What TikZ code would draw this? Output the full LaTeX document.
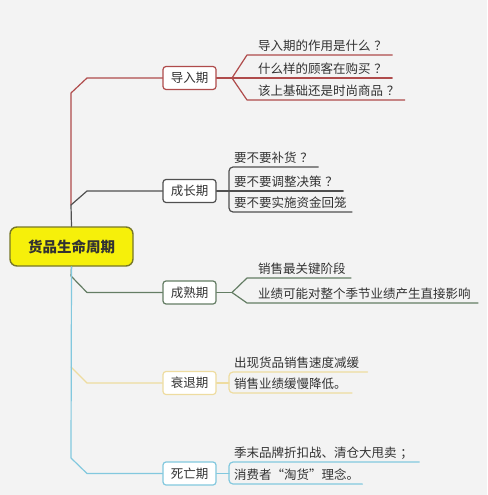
\documentclass[tikz,border=0pt]{standalone}
\usepackage{fontspec}
\newfontfamily\cjk{Noto Sans CJK SC}
\newcommand\qmk{\hspace{0.3em}？\hspace{-0.3em}}
\newcommand\smk{\hspace{0.3em}；\hspace{-0.3em}}
\definecolor{bg}{RGB}{243,243,243}
\definecolor{txt}{RGB}{50,50,50}
\definecolor{ca}{RGB}{175,75,75}
\definecolor{cb}{RGB}{80,80,80}
\definecolor{cc}{RGB}{100,125,100}
\definecolor{cd}{RGB}{238,220,160}
\definecolor{ce}{RGB}{130,200,222}
\definecolor{rootfill}{RGB}{246,240,10}
\definecolor{rootline}{RGB}{120,120,40}
\begin{document}
\begin{tikzpicture}[x=1pt,y=-1pt,
  phase/.style={draw, rounded corners=3pt, line width=1.2pt, fill=white, minimum width=53pt, minimum height=23pt, inner sep=0pt, font=\cjk\fontsize{12.5}{13}\selectfont, text=txt},
  leaf/.style={anchor=south west, inner xsep=0pt, inner ysep=1.5pt, font=\cjk\fontsize{12.5}{13}\selectfont, text=txt, text height=10pt, text depth=2.5pt},
  br/.style={line width=1.2pt, line cap=round, line join=round},
  brk/.style={br, rounded corners=4pt},
]
\fill[bg] (0,0) rectangle (487,495);
\useasboundingbox (0,0) rectangle (487,495);

% root
\node[draw=rootline, fill=rootfill, line width=1.4pt, rounded corners=7pt, minimum width=123pt, minimum height=39pt, inner sep=0pt, font=\cjk\bfseries\fontsize{14.5}{15}\selectfont, text=txt] (root) at (71.5,246.5) {货品生命周期};

% phases
\node[phase, draw=ca] (p1) at (189.5,78) {导入期};
\node[phase, draw=cb] (p2) at (189.5,191) {成长期};
\node[phase, draw=cc] (p3) at (189.5,292.5) {成熟期};
\node[phase, draw=cd] (p4) at (189.5,383) {衰退期};
\node[phase, draw=ce] (p5) at (189.5,473.5) {死亡期};

% trunk coordinates
\coordinate (t1a) at (87,78);   \coordinate (t1b) at (71,93);  \coordinate (t1c) at (71,205);
\coordinate (t2a) at (87,191);  \coordinate (t2b) at (71,205);
\coordinate (t3a) at (87,292.5);\coordinate (t3b) at (71,276);
\coordinate (t4a) at (87,383);  \coordinate (t4b) at (71,367);
\coordinate (t5a) at (87,473.5);\coordinate (t5b) at (71,458);

% trunk and main branches
\draw[br, ca] (p1.west) -- (t1a) -- (t1b) -- (t1c);
\draw[br, cb] (p2.west) -- (t2a) -- (t2b) -- (root.north);
\draw[br, cc] (p3.west) -- (t3a) -- (t3b) -- (root.south);
\draw[br, cd] (p4.west) -- (t4a) -- (t4b);
\draw[br, ce] (root.south) -- (t5b) -- (t5a) -- (p5.west);

% ---- 导入期 ----
\coordinate (j1) at (232,78);
\node[leaf] (l11) at (258,55) {导入期的作用是什么\qmk};
\node[leaf] (l12) at (258,78) {什么样的顾客在购买\qmk};
\node[leaf] (l13) at (258,100) {该上基础还是时尚商品\qmk};
\draw[br, ca] (p1.east) -- (j1);
\draw[br, ca] (j1) -- ([xshift=-11pt]l11.south west) -- ([xshift=5pt]l11.south east);
\draw[br, ca] (j1) -- ([xshift=5pt]l12.south east);
\draw[br, ca] (j1) -- ([xshift=-11pt]l13.south west) -- ([xshift=5pt]l13.south east);

% ---- 成长期 ----
\coordinate (j2) at (229,191);
\node[leaf] (l21) at (234,167) {要不要补货\qmk};
\node[leaf] (l22) at (234,191) {要不要调整决策\qmk};
\node[leaf] (l23) at (234,212) {要不要实施资金回笼};
\draw[br, cb] (p2.east) -- (j2) -- ([xshift=5pt]l22.south east);
\draw[brk, cb] ([xshift=5pt]l21.south east) -- ([xshift=-5pt]l21.south west) -- ([xshift=-5pt]l23.south west) -- ([xshift=5pt]l23.south east);

% ---- 成熟期 ----
\coordinate (j3) at (232,292.5);
\node[leaf] (l31) at (258,278) {销售最关键阶段};
\node[leaf] (l32) at (258,303) {业绩可能对整个季节业绩产生直接影响};
\draw[br, cc] (p3.east) -- (j3);
\draw[br, cc] (j3) -- ([xshift=-11pt]l31.south west) -- ([xshift=5pt]l31.south east);
\draw[br, cc] (j3) -- ([xshift=-11pt]l32.south west) -- ([xshift=7pt]l32.south east);

% ---- 衰退期 ----
\coordinate (j4) at (229,383);
\node[leaf] (l41) at (234,372) {出现货品销售速度减缓};
\node[leaf] (l42) at (234,393) {销售业绩缓慢降低。};
\draw[br, cd] (p4.east) -- (j4);
\draw[brk, cd] ([xshift=8pt]l41.south east) -- ([xshift=-5pt]l41.south west) -- ([xshift=-5pt]l42.south west) -- ([xshift=5pt]l42.south east);

% ---- 死亡期 ----
\coordinate (j5) at (229,473.5);
\node[leaf] (l51) at (234,462) {季末品牌折扣战、清仓大甩卖\smk};
\node[leaf] (l52) at (234,484) {消费者“淘货”理念。};
\draw[br, ce] (p5.east) -- (j5);
\draw[brk, ce] ([xshift=6pt]l51.south east) -- ([xshift=-5pt]l51.south west) -- ([xshift=-5pt]l52.south west) -- ([xshift=3pt]l52.south east);
\end{tikzpicture}
\end{document}
